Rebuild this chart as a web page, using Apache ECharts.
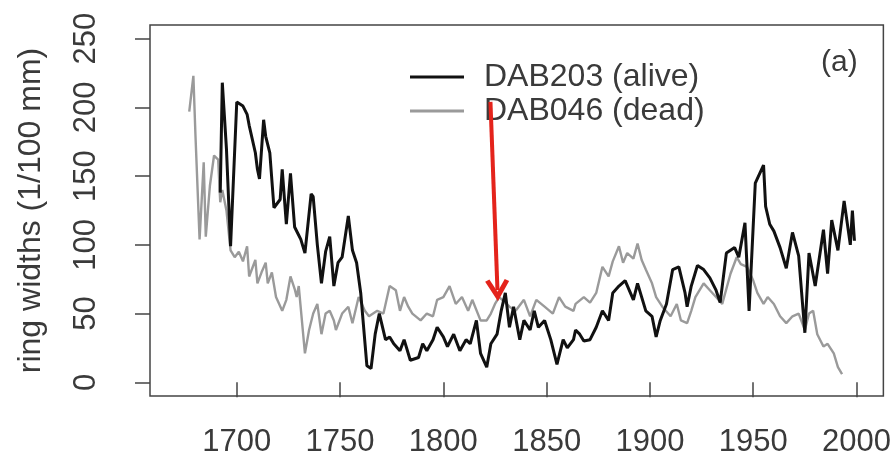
<!DOCTYPE html>
<html>
<head>
<meta charset="utf-8">
<script src="https://cdn.jsdelivr.net/npm/echarts@6/dist/echarts.min.js"></script>
<style>html,body{margin:0;padding:0;background:#fff}#c{width:894px;height:461px}</style>
</head>
<body>
<div id="c"></div>
<script>
const xTicks = [1700, 1750, 1800, 1850, 1900, 1950, 2000];
const yTicks = [0, 50, 100, 150, 200, 250];

const aliveYears = [1692,1693,1695,1697,1700,1703,1705,1706,1709,1710,
 1711,1713,1714,1716,1718,1721,1722,1724,1726,1728,
 1730,1731,1733,1736,1737,1739,1741,1743,1745,1747,
 1749,1751,1754,1756,1758,1760,1763,1765,1767,1769,
 1772,1774,1776,1779,1781,1784,1788,1790,1792,1795,
 1797,1800,1802,1805,1808,1811,1813,1816,1818,1821,
 1823,1826,1828,1830,1832,1834,1837,1839,1842,1844,
 1846,1849,1852,1855,1858,1860,1863,1864,1866,1868,
 1871,1874,1877,1880,1882,1885,1888,1892,1894,1896,
 1898,1901,1903,1905,1908,1911,1914,1917,1918,1920,
 1923,1926,1929,1932,1934,1937,1941,1943,1946,1948,
 1951,1955,1956,1958,1960,1963,1966,1969,1972,1975,
 1977,1980,1984,1986,1988,1991,1994,1997,1998,1999];
const aliveWidths = [138,218,170,99,204,201,195,187,167,155,
 148,191,179,167,127,133,155,115,152,113,
 107,104,94,137,135,100,72,95,106,70,
 87,91,121,96,87,65,12,10,35,50,
 31,33,28,23,31,16,18,28,23,31,
 40,33,26,35,23,31,28,45,21,11,
 28,35,52,65,40,55,31,45,38,52,
 40,45,31,13,31,25,31,38,35,30,
 31,40,52,45,65,70,74,60,72,62,
 52,48,33,45,57,82,84,65,55,70,
 85,82,76,67,58,94,98,91,116,52,
 145,158,128,115,110,98,83,109,92,36,
 94,70,111,79,118,96,132,100,125,103];

const deadYears = [1677,1679,1680,1682,1684,1685,1687,1689,1691,1692,
 1693,1695,1697,1699,1701,1703,1705,1706,1709,1710,
 1712,1714,1715,1717,1719,1722,1724,1726,1728,1729,
 1730,1733,1735,1737,1739,1741,1743,1745,1747,1748,
 1751,1754,1756,1759,1762,1764,1768,1771,1774,1777,
 1779,1781,1783,1785,1789,1792,1795,1797,1800,1803,
 1806,1809,1812,1814,1818,1821,1823,1825,1827,1830,
 1832,1835,1839,1842,1845,1849,1853,1856,1859,1863,
 1864,1868,1871,1874,1877,1880,1882,1885,1887,1889,
 1892,1894,1896,1898,1901,1903,1906,1910,1913,1915,
 1918,1920,1922,1926,1929,1932,1935,1939,1942,1944,
 1947,1950,1952,1955,1957,1960,1963,1966,1969,1972,
 1975,1977,1979,1981,1984,1986,1989,1991,1993];
const deadWidths = [197,223,180,104,160,106,143,165,162,131,
 140,125,96,91,95,88,99,77,89,72,
 80,87,72,80,62,52,60,77,68,62,
 70,21,38,50,57,35,50,52,45,38,
 50,55,43,62,52,48,52,50,70,67,
 52,62,55,50,45,50,48,60,62,70,
 57,62,52,60,45,45,50,57,62,58,
 55,52,60,48,60,55,50,62,55,52,
 57,62,58,65,84,77,88,99,87,94,
 90,101,89,82,72,62,55,48,57,45,
 43,52,62,72,67,62,57,79,91,86,
 84,74,65,57,62,57,48,43,48,50,
 38,50,52,35,26,28,21,11,6];

const arrowFrom = [1822.8, 204];
const arrowTo = [1826.2, 67];

const pairs = (xs, ys) => xs.map((x, i) => [x, ys[i]]);
const FONT = '"Liberation Sans", Arial, Helvetica, sans-serif';
const TXT = '#3a3a3a';

const chart = echarts.init(document.getElementById('c'), null, {renderer: 'canvas'});
chart.setOption({
  animation: false,
  backgroundColor: '#fff',
  textStyle: {fontFamily: FONT},
  title: {
    text: '(a)', left: 816, top: 43,
    textStyle: {fontFamily: FONT, fontSize: 30, fontWeight: 'normal', color: TXT}
  },
  legend: {
    orient: 'vertical', left: 405, top: 56,
    data: ['DAB203 (alive)', 'DAB046 (dead)'],
    icon: 'rect', itemWidth: 54, itemHeight: 3, itemGap: 2,
    textStyle: {fontFamily: FONT, fontSize: 32, color: TXT, padding: [0, 0, 0, 15]}
  },
  grid: {
    left: 150, right: 10, top: 25, bottom: 65,
    show: true, borderColor: '#444', borderWidth: 1.5, backgroundColor: 'transparent'
  },
  xAxis: {
    type: 'value', min: 1658, max: 2013,
    axisLine: {show: false},
    splitLine: {show: false},
    axisTick: {show: true, inside: false, length: 15, customValues: xTicks, lineStyle: {color: '#444', width: 1.5}},
    axisLabel: {customValues: xTicks, formatter: v => String(v), fontSize: 31, color: TXT, margin: 31, fontFamily: FONT}
  },
  yAxis: {
    type: 'value', min: -10, max: 260,
    name: 'ring widths (1/100 mm)', nameLocation: 'middle', nameGap: 103, nameRotate: 90,
    nameTextStyle: {fontFamily: FONT, fontSize: 32, color: TXT},
    axisLine: {show: false},
    splitLine: {show: false},
    axisTick: {show: true, inside: false, length: 15, customValues: yTicks, lineStyle: {color: '#444', width: 1.5}},
    axisLabel: {customValues: yTicks, formatter: v => String(v), rotate: 90, fontSize: 31, color: TXT, margin: 48, fontFamily: FONT}
  },
  series: [
    {
      name: 'DAB046 (dead)', type: 'line', data: pairs(deadYears, deadWidths),
      showSymbol: false, symbol: 'none', color: '#9a9a9a',
      lineStyle: {color: '#9a9a9a', width: 2.4}, z: 2
    },
    {
      name: 'DAB203 (alive)', type: 'line', data: pairs(aliveYears, aliveWidths),
      showSymbol: false, symbol: 'none', color: '#111',
      lineStyle: {color: '#111', width: 3}, z: 3,
      markLine: {
        silent: true, animation: false,
        symbol: ['none', 'path://M0,9 L5,0 L10,9 L8.2,10 L5,4.3 L1.8,10 Z'], symbolSize: [24, 22],
        label: {show: false},
        lineStyle: {color: '#e4231b', width: 4, type: 'solid'},
        itemStyle: {color: '#e4231b'},
        data: [[{coord: arrowFrom}, {coord: arrowTo}]]
      }
    }
  ]
});
</script>
</body>
</html>
